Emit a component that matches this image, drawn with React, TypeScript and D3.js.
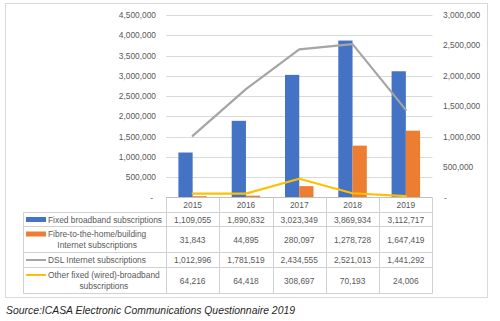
import React, { useEffect, useRef } from "react";
import * as d3 from "d3";

const years = ["2015", "2016", "2017", "2018", "2019"];
const fixedBroadband = [1109055, 1890832, 3023349, 3869934, 3112717];
const fibre = [31843, 44895, 280097, 1278728, 1647419];
const dsl = [1012996, 1781519, 2434555, 2521013, 1441292];
const otherFixed = [64216, 64418, 308697, 70193, 24006];

const leftTicks = [0, 500000, 1000000, 1500000, 2000000, 2500000, 3000000, 3500000, 4000000, 4500000];
const rightTicks = [0, 500000, 1000000, 1500000, 2000000, 2500000, 3000000];

const seriesLabels = [
  ["Fixed broadband subscriptions"],
  ["Fibre-to-the-home/building", "Internet subscriptions"],
  ["DSL Internet subscriptions"],
  ["Other fixed (wired)-broadband", "subscriptions"],
];
const seriesValues = [fixedBroadband, fibre, dsl, otherFixed];
const seriesKinds = ["bar", "bar", "line", "line"];
const seriesColors = ["#4472C4", "#ED7D31", "#A5A5A5", "#FFC000"];
const sourceText = "Source:ICASA Electronic Communications Questionnaire 2019";

export default function App() {
  const ref = useRef<SVGSVGElement | null>(null);

  useEffect(() => {
    const svg = d3.select(ref.current);
    svg.selectAll("*").remove();
    const font = "'Liberation Sans', Arial, sans-serif";
    const fs = 8.4;
    const txt = "#595959";
    const grid = "#D9D9D9";
    const tableLine = "#D0D0D0";

    const plotLeft = 166, plotRight = 432.5, plotTop = 15, plotBottom = 197.5;
    const x = d3.scaleBand<string>().domain(years).range([plotLeft, plotRight]);
    const yL = d3.scaleLinear().domain([0, 4500000]).range([plotBottom, plotTop]);
    const yR = d3.scaleLinear().domain([0, 3000000]).range([plotBottom, plotTop]);
    const inner = d3.scaleBand<string>().domain(["0", "1"]).range([0, x.bandwidth()]).paddingInner(0).paddingOuter(0.87);
    const fmt = d3.format(",");
    const lab = (v: number) => (v === 0 ? "-" : fmt(v));

    // chart border
    svg.append("rect").attr("x", 5.5).attr("y", 3.5).attr("width", 482).attr("height", 294)
      .attr("fill", "#fff").attr("stroke", "#D9D9D9").attr("stroke-width", 1);

    // gridlines
    svg.append("g").selectAll("line").data(leftTicks.slice(1)).join("line")
      .attr("x1", plotLeft).attr("x2", plotRight)
      .attr("y1", (d) => Math.round(yL(d)) + 0.5).attr("y2", (d) => Math.round(yL(d)) + 0.5)
      .attr("stroke", grid).attr("stroke-width", 1);

    // left axis labels
    svg.append("g").selectAll("text").data(leftTicks).join("text")
      .attr("x", (d) => (d === 0 ? 153 : 156)).attr("y", (d) => yL(d) + 3)
      .attr("text-anchor", "end").attr("font-family", font).attr("font-size", fs).attr("fill", txt)
      .text(lab);
    // right axis labels
    svg.append("g").selectAll("text").data(rightTicks).join("text")
      .attr("x", (d) => (d === 0 ? 444 : 443)).attr("y", (d) => yR(d) + 3)
      .attr("text-anchor", "start").attr("font-family", font).attr("font-size", fs).attr("fill", txt)
      .text(lab);

    // bars
    [0, 1].forEach((si) => {
      svg.append("g").selectAll("rect").data(seriesValues[si]).join("rect")
        .attr("x", (d, i) => (x(years[i]) as number) + (inner(String(si)) as number))
        .attr("width", inner.bandwidth())
        .attr("y", (d) => yL(d))
        .attr("height", (d) => plotBottom - yL(d))
        .attr("fill", seriesColors[si]);
    });

    // lines (secondary axis)
    [2, 3].forEach((si) => {
      const line = d3.line<number>()
        .x((d, i) => (x(years[i]) as number) + x.bandwidth() / 2)
        .y((d) => yR(d));
      svg.append("path").datum(seriesValues[si]).attr("d", line)
        .attr("fill", "none").attr("stroke", seriesColors[si]).attr("stroke-width", 2.2)
        .attr("stroke-linejoin", "round").attr("stroke-linecap", "round");
    });

    // table
    const tableLeft = 23.5;
    const rowHeights = [15, 14, 26, 15, 26];
    const rowTops: number[] = [];
    let acc = 197.5;
    rowHeights.forEach((h) => { rowTops.push(acc); acc += h; });
    const tableBottom = acc;
    const tg = svg.append("g");
    // horizontal lines
    rowTops.concat([tableBottom]).forEach((yy, i) => {
      tg.append("line").attr("x1", i === 0 ? plotLeft : tableLeft).attr("x2", plotRight)
        .attr("y1", yy).attr("y2", yy).attr("stroke", i === 0 ? "#BFBFBF" : tableLine).attr("stroke-width", 1);
    });
    // vertical lines
    tg.append("line").attr("x1", tableLeft).attr("x2", tableLeft).attr("y1", rowTops[1]).attr("y2", tableBottom)
      .attr("stroke", tableLine);
    years.forEach((yr) => {
      const xx = Math.round(x(yr) as number) + 0.5;
      tg.append("line").attr("x1", xx).attr("x2", xx).attr("y1", rowTops[0]).attr("y2", tableBottom).attr("stroke", tableLine);
    });
    tg.append("line").attr("x1", plotRight).attr("x2", plotRight).attr("y1", rowTops[0]).attr("y2", tableBottom).attr("stroke", tableLine);

    // header years
    tg.selectAll("text.yr").data(years).join("text").attr("class", "yr")
      .attr("x", (d) => (x(d) as number) + x.bandwidth() / 2)
      .attr("y", rowTops[0] + rowHeights[0] / 2 + 3)
      .attr("text-anchor", "middle").attr("font-family", font).attr("font-size", fs).attr("fill", txt)
      .text((d) => d);

    // rows
    seriesLabels.forEach((lines, si) => {
      const top = rowTops[si + 1];
      const h = rowHeights[si + 1];
      const mid = top + h / 2;
      const lineGap = 11;
      const firstBase = lines.length === 1 ? mid + 3 : mid - lineGap / 2 + 3;
      const keyY = firstBase - 3;
      if (seriesKinds[si] === "bar") {
        tg.append("rect").attr("x", 26).attr("y", keyY - 2.5).attr("width", 20).attr("height", 5).attr("fill", seriesColors[si]);
      } else {
        tg.append("line").attr("x1", 26).attr("x2", 46).attr("y1", keyY).attr("y2", keyY)
          .attr("stroke", seriesColors[si]).attr("stroke-width", 2);
      }
      const textStart = 48;
      const t0 = tg.append("text").attr("font-family", font).attr("font-size", fs).attr("fill", txt)
        .attr("x", textStart).attr("y", firstBase).text(lines[0]);
      if (lines.length > 1) {
        const w = (t0.node() as SVGTextElement).getComputedTextLength();
        const cx = textStart + w / 2;
        t0.attr("text-anchor", "middle").attr("x", cx);
        tg.append("text").attr("font-family", font).attr("font-size", fs).attr("fill", txt)
          .attr("x", cx).attr("y", firstBase + lineGap).attr("text-anchor", "middle").text(lines[1]);
      }
      tg.selectAll(`text.v${si}`).data(seriesValues[si]).join("text").attr("class", `v${si}`)
        .attr("x", (d, i) => (x(years[i]) as number) + x.bandwidth() / 2)
        .attr("y", mid + 3)
        .attr("text-anchor", "middle").attr("font-family", font).attr("font-size", fs).attr("fill", txt)
        .text((d) => fmt(d));
    });

    // source
    svg.append("text").attr("x", 6).attr("y", 314).attr("font-family", font).attr("font-size", 10.4)
      .attr("font-style", "italic").attr("fill", "#1F1F1F").text(sourceText);
  }, []);

  return (
    <svg ref={ref} width={500} height={321} viewBox="0 0 500 321"
      style={{ position: "absolute", left: 0, top: 0, display: "block", background: "#fff" }} />
  );
}
